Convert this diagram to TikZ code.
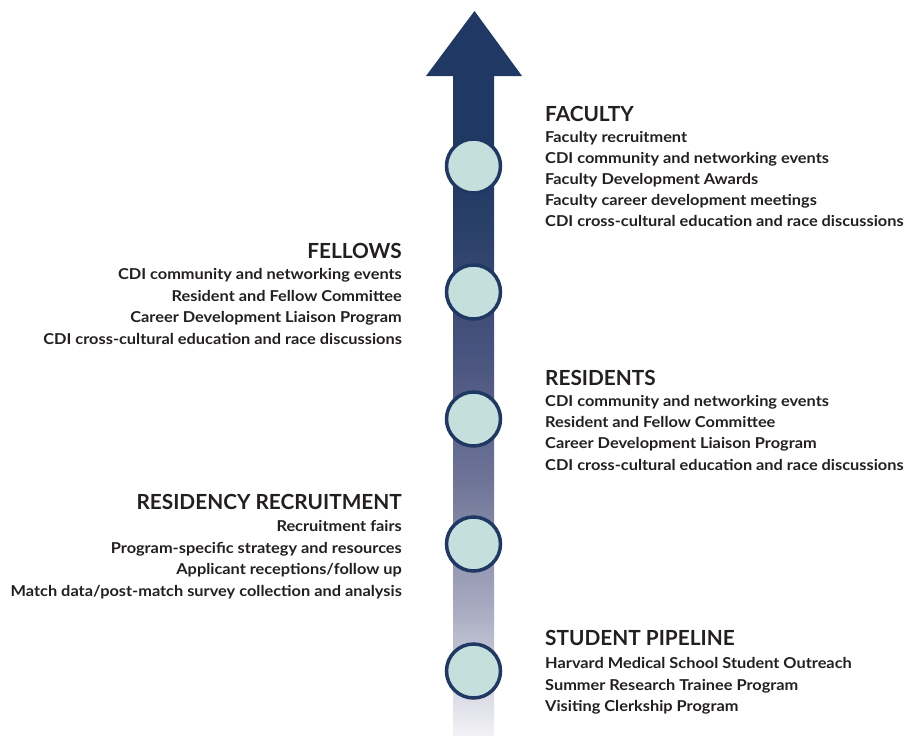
\documentclass[tikz,border=0pt]{standalone}
\usepackage{fontspec}
\setmainfont{Lato}
\newfontfamily\bodyfont{Lato}[FakeStretch=1.09]
\definecolor{navy}{HTML}{1F3864}
\definecolor{dotfill}{HTML}{C5E0DC}
\definecolor{ink}{HTML}{231F20}
\definecolor{sa}{HTML}{F2F2F6}
\definecolor{sb}{HTML}{A6A9C0}
\definecolor{sc}{HTML}{6E7497}
\definecolor{sd}{HTML}{4A5580}
\definecolor{se}{HTML}{2A4068}
\pgfdeclareverticalshading{shaftshade}{100bp}{color(0bp)=(sa); color(25bp)=(sa); color(34.9bp)=(sb); color(44.4bp)=(sc); color(53.4bp)=(sd); color(63.3bp)=(se); color(68.6bp)=(navy); color(100bp)=(navy)}
\tikzset{
  dot/.style={circle, draw=navy, line width=3.5pt, fill=dotfill, minimum size=54pt, inner sep=0pt},
  head/.style={inner sep=0pt, text=ink, font=\fontsize{20.8}{24}\selectfont\bfseries},
  body/.style={inner sep=0pt, text=ink, font=\bodyfont\fontsize{15}{18}\selectfont\bfseries},
  rt/.style={anchor=base west},
  lt/.style={anchor=base east}
}
\begin{document}
\begin{tikzpicture}[x=1pt,y=-1pt]
\useasboundingbox (0,0) rectangle (916,736);
% arrow
\coordinate (sl) at (453,75);
\coordinate (sr) at (494,736);
\fill[shading=shaftshade] (sl) rectangle (sr);
\coordinate (tip) at (474.5,11);
\coordinate (hl) at (426,76);
\coordinate (hr) at (522,76);
\fill[navy] (hl) -- (tip) -- (hr) -- cycle;
% dots
\node[dot] (d1) at (473.5,166) {};
\node[dot] (d2) at (473.5,292) {};
\node[dot] (d3) at (473.5,419) {};
\node[dot] (d4) at (473.5,544) {};
\node[dot] (d5) at (473.5,671) {};
% faculty
\node[head,rt] (fh) at (545,121) {FACULTY};
\node[body,rt] (f1) at (545,142.5) {Faculty recruitment};
\node[body,rt] (f2) at (545,163.5) {CDI community and networking events};
\node[body,rt] (f3) at (545,184.5) {Faculty Development Awards};
\node[body,rt] (f4) at (545,205) {Faculty career development meetings};
\node[body,rt] (f5) at (545,226) {CDI cross-cultural education and race discussions};
% fellows
\node[head,lt] (lh) at (402,258) {FELLOWS};
\node[body,lt] (l1) at (402,279.5) {CDI community and networking events};
\node[body,lt] (l2) at (402,301) {Resident and Fellow Committee};
\node[body,lt] (l3) at (402,322.5) {Career Development Liaison Program};
\node[body,lt] (l4) at (402,344) {CDI cross-cultural education and race discussions};
% residents
\node[head,rt] (rh) at (545,385) {RESIDENTS};
\node[body,rt] (r1) at (545,406.5) {CDI community and networking events};
\node[body,rt] (r2) at (545,427.5) {Resident and Fellow Committee};
\node[body,rt] (r3) at (545,448.5) {Career Development Liaison Program};
\node[body,rt] (r4) at (545,470) {CDI cross-cultural education and race discussions};
% residency recruitment
\node[head,lt] (kh) at (402,509) {RESIDENCY RECRUITMENT};
\node[body,lt] (k1) at (402,531.5) {Recruitment fairs};
\node[body,lt] (k2) at (402,553) {Program-specific strategy and resources};
\node[body,lt] (k3) at (402,574.5) {Applicant receptions/follow up};
\node[body,lt] (k4) at (402,596) {Match data/post-match survey collection and analysis};
% student pipeline
\node[head,rt] (sh) at (545,645) {STUDENT PIPELINE};
\node[body,rt] (s1) at (545,668.5) {Harvard Medical School Student Outreach};
\node[body,rt] (s2) at (545,690) {Summer Research Trainee Program};
\node[body,rt] (s3) at (545,711.5) {Visiting Clerkship Program};
\end{tikzpicture}
\end{document}
